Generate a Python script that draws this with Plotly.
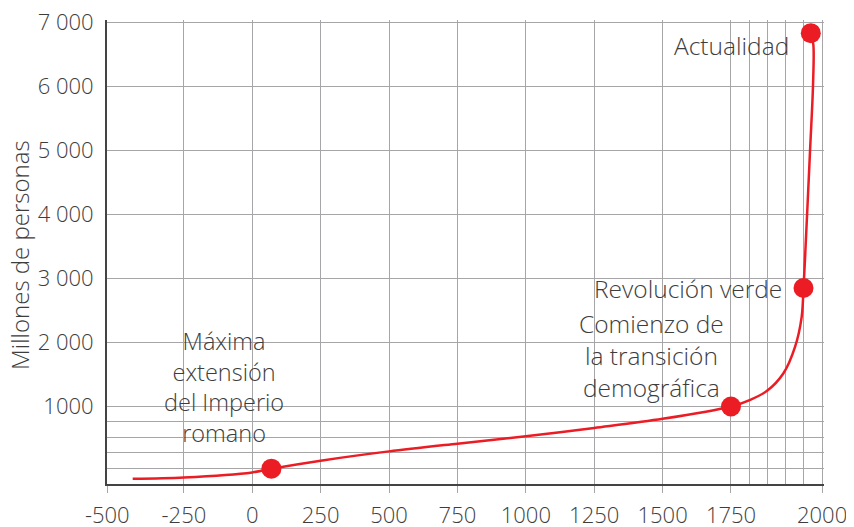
import numpy as np
import plotly.graph_objects as go

# Curva de población mundial (millones de personas)
line_years = [-417, -250, 0, 70, 250, 500, 750, 1000, 1250, 1500, 1750,
              1803, 1849, 1894, 1926, 1944, 1949, 1953, 1967, 1975, 1976, 1969]
line_pop = [65, 82, 147, 195, 299, 419, 519, 614, 723, 840, 1000,
            1104, 1245, 1520, 1935, 2400, 2850, 3290, 5000, 6000, 6650, 6830]

event_years = [70, 1750, 1949, 1969]
event_pop = [195, 1000, 2850, 6830]
event_labels = ["Máxima<br>extensión<br>del Imperio<br>romano",
                "Comienzo de<br>la transición<br>demográfica",
                "Revolución verde",
                "Actualidad"]

x_ticks = [-500, -250, 0, 250, 500, 750, 1000, 1250, 1500, 1750, 2000]
x_ticktext = ["-500", "-250", "0", "250", "500", "750", "1000", "1250",
              "1500", "1750", "2000"]
x_minor = [1800, 1850, 1900, 1950]
y_ticks = [1000, 2000, 3000, 4000, 5000, 6000, 7000]
y_ticktext = ["1000", "2 000", "3 000", "4 000", "5 000", "6 000", "7 000"]
y_minor = [200, 400, 600, 800]

# la escala del original no es uniforme: tramos estirados en los extremos
X_BREAKS = [-500, -250, 1750, 2000]
X_POS = [-530, -250, 1750, 2083]
Y_BREAKS = [0, 1000, 7000]
Y_POS = [0, 1206.5, 7206.5]


def warp_x(year):
    return np.interp(np.asarray(year, dtype=float), X_BREAKS, X_POS)


def warp_y(pop):
    return np.interp(np.asarray(pop, dtype=float), Y_BREAKS, Y_POS)


RED = "#ec1c24"
TEXT = "#3d3d3d"
GRID = "#a6a6a8"
FONT = "Open Sans"

fig = go.Figure()
fig.add_trace(go.Scatter(x=warp_x(line_years), y=warp_y(line_pop),
                         mode="lines",
                         line=dict(color=RED, width=2.5, shape="spline",
                                   smoothing=0.9),
                         hoverinfo="skip"))
fig.add_trace(go.Scatter(x=warp_x(event_years), y=warp_y(event_pop),
                         mode="markers",
                         marker=dict(color=RED, size=20, line=dict(width=0)),
                         hoverinfo="skip"))

# posición y tamaño de cada rótulo respecto a su punto
label_pos = [
    dict(xanchor="center", yanchor="middle", xshift=-47, yshift=82),
    dict(xanchor="center", yanchor="middle", xshift=-79, yshift=51),
    dict(xanchor="right", yanchor="middle", xshift=-20, yshift=0),
    dict(xanchor="right", yanchor="middle", xshift=-20, yshift=-12),
]
label_size = [23.5, 24.5, 24.5, 24.5]
for xv, yv, txt, pos, size in zip(warp_x(event_years), warp_y(event_pop),
                                  event_labels, label_pos, label_size):
    fig.add_annotation(x=xv, y=yv, text=txt, showarrow=False, align="center",
                       font=dict(family=FONT, size=size, color=TEXT,
                                 weight=300),
                       **pos)

# título del eje vertical
fig.add_annotation(xref="paper", yref="paper", x=0, y=0.5,
                   text="Millones de personas", textangle=-90,
                   showarrow=False, xanchor="center", yanchor="middle",
                   xshift=-88, yshift=-3,
                   font=dict(family=FONT, size=24, color=TEXT, weight=300))

# la página deja 8 px de margen en el body: la figura se reduce en esa medida
fig.update_layout(
    width=846,
    height=519,
    autosize=False,
    showlegend=False,
    plot_bgcolor="white",
    paper_bgcolor="white",
    margin=dict(l=99, r=30, t=12, b=43),
    font=dict(family=FONT, color=TEXT, weight=300),
)
fig.update_xaxes(
    range=[-531, 2090],
    automargin=False,
    tickmode="array",
    tickvals=warp_x(x_ticks),
    ticktext=x_ticktext,
    tickfont=dict(size=22, color=TEXT, weight=300),
    ticks="outside",
    ticklen=7,
    tickcolor=GRID,
    ticklabelstandoff=4,
    ticklabeloverflow="allow",
    showgrid=True,
    gridcolor=GRID,
    gridwidth=1,
    minor=dict(tickmode="array", tickvals=warp_x(x_minor), showgrid=True,
               gridcolor=GRID, gridwidth=1, ticks=""),
    showline=True,
    linecolor="#444444",
    linewidth=2,
    zeroline=False,
    fixedrange=True,
)
fig.update_yaxes(
    range=[-4, 7242],
    automargin=False,
    tickmode="array",
    tickvals=warp_y(y_ticks),
    ticktext=y_ticktext,
    tickfont=dict(size=22, color=TEXT, weight=300),
    ticks="",
    ticklabelstandoff=7,
    ticklabeloverflow="allow",
    showgrid=True,
    gridcolor=GRID,
    gridwidth=1,
    minor=dict(tickmode="array", tickvals=warp_y(y_minor), showgrid=True,
               gridcolor=GRID, gridwidth=1, ticks=""),
    showline=True,
    linecolor="#444444",
    linewidth=2,
    zeroline=False,
    fixedrange=True,
)

fig.write_html("out.html")
